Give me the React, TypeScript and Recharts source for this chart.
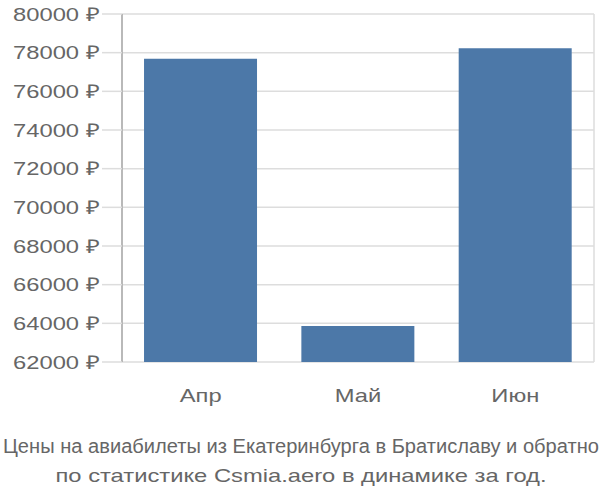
import React from "react";
import { BarChart, Bar, XAxis, YAxis, CartesianGrid } from "recharts";

const months = ["Апр", "Май", "Июн"];
const prices = [77690, 63860, 78230];
const yTicks = [62000, 64000, 66000, 68000, 70000, 72000, 74000, 76000, 78000, 80000];
const bandEdges = [0, 1, 2, 3];
const titleLines = [
  "Цены на авиабилеты из Екатеринбурга в Братиславу и обратно",
  "по статистике Csmia.aero в динамике за год.",
];

const data = months.map((m, i) => ({ name: m, idx: i + 0.5, price: prices[i] }));

const font = "'Liberation Sans', Arial, sans-serif";
const stretch = 1.25; // text in the reference is widened horizontally

const YTick = (props: any) => {
  const { x, y, payload } = props;
  return (
    <g transform={`translate(${x},${y}) scale(${stretch},1)`}>
      <text x={0} y={0} dy="0.355em" textAnchor="end" fill="#666" fontSize={19} fontFamily={font}>
        {`${payload.value} ₽`}
      </text>
    </g>
  );
};

const XTick = (props: any) => {
  const { x, y, payload } = props;
  return (
    <g transform={`translate(${x},${y}) scale(${stretch},1)`}>
      <text x={0} y={0} dy="0.71em" textAnchor="middle" fill="#666" fontSize={19} fontFamily={font}>
        {payload.value}
      </text>
    </g>
  );
};

export default function App() {
  return (
    <div style={{ position: "absolute", left: 0, top: 0, width: 600, height: 500, background: "#fff", fontFamily: font }}>
      <BarChart
        width={600}
        height={420}
        data={data}
        margin={{ top: 14, right: 6, left: 0, bottom: 0 }}
        barCategoryGap="14%"
      >
        <CartesianGrid xAxisId="b" stroke="#dddddd" strokeWidth={1.5} />
        <XAxis
          xAxisId="b"
          type="number"
          dataKey="idx"
          domain={[0, 3]}
          ticks={bandEdges}
          height={0}
          tickSize={18}
          tick={false}
          axisLine={false}
          tickLine={{ stroke: "#dddddd", strokeWidth: 1.5 }}
        />
        <XAxis
          dataKey="name"
          height={58}
          axisLine={false}
          tickLine={false}
          tickSize={0}
          tickMargin={26}
          tick={<XTick />}
        />
        <YAxis
          width={122}
          domain={[62000, 80000]}
          ticks={yTicks}
          interval={0}
          allowDataOverflow
          tickSize={20}
          tickMargin={2}
          axisLine={{ stroke: "#aaaaaa", strokeWidth: 1.5 }}
          tickLine={{ stroke: "#dddddd", strokeWidth: 1.5 }}
          tick={<YTick />}
        />
        <Bar dataKey="price" fill="#4c78a8" isAnimationActive={false} />
      </BarChart>
      <svg width={600} height={80} style={{ position: "absolute", left: 0, top: 420 }}>
        <text x={301} y={33} textAnchor="middle" fill="#666" fontSize={20} fontFamily={font} textLength={596} lengthAdjust="spacingAndGlyphs">
          {titleLines[0]}
        </text>
        <g transform={`translate(301,62) scale(${stretch},1)`}>
          <text x={0} y={0} textAnchor="middle" fill="#666" fontSize={19} fontFamily={font}>
            {titleLines[1]}
          </text>
        </g>
      </svg>
    </div>
  );
}
